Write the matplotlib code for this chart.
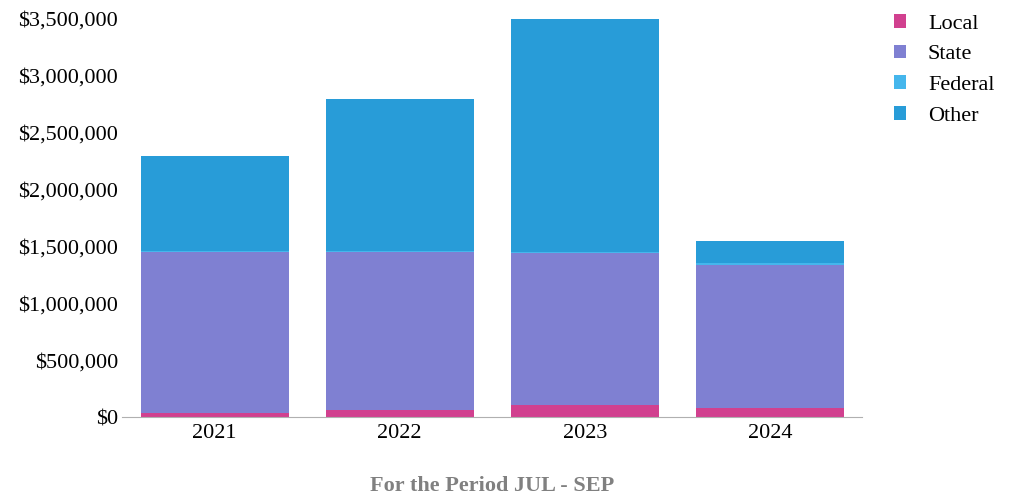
import numpy as np
import matplotlib.pyplot as plt
from matplotlib.ticker import FuncFormatter

years = ["2021", "2022", "2023", "2024"]
local = [35000, 62000, 105000, 80000]
state = [1416000, 1388000, 1335000, 1257000]
federal = [10000, 8000, 8000, 20000]
other = [834000, 1338000, 2052000, 191000]

series = [("Local", local, "#d1408f"),
          ("State", state, "#7f80d2"),
          ("Federal", federal, "#45b6ec"),
          ("Other", other, "#289cd8")]

plt.rcParams["font.family"] = ["Liberation Serif", "DejaVu Serif"]

fig = plt.figure(figsize=(10.17, 4.99), dpi=100)
ax = fig.add_axes([0.12, 0.1643, 0.728, 0.798])

x = np.arange(len(years))
bottom = np.zeros(len(years))
for name, vals, color in series:
    ax.bar(x, vals, width=0.8, bottom=bottom, color=color, label=name)
    bottom += np.array(vals)

ax.set_xlim(-0.5, 3.5)
ax.set_ylim(0, 3500000)
ax.set_yticks(np.arange(0, 3500001, 500000))
ax.yaxis.set_major_formatter(FuncFormatter(lambda v, p: "${:,.0f}".format(v)))
ax.set_xticks(x)
ax.set_xticklabels(years)

for side in ["top", "right", "left"]:
    ax.spines[side].set_visible(False)
ax.spines["bottom"].set_color("#b0b0b0")
ax.tick_params(axis="y", length=0, labelsize=16, pad=3)
ax.tick_params(axis="x", length=0, labelsize=16, pad=5)

ax.set_xlabel("For the Period JUL - SEP", fontsize=16, fontweight="bold",
              color="#808080", labelpad=24)

ax.legend(loc="upper left", bbox_to_anchor=(1.015, 1.062), frameon=False,
          fontsize=16, handlelength=0.55, handleheight=0.55,
          labelspacing=0.5, handletextpad=1.0)

fig.savefig("out.png", dpi=100)
